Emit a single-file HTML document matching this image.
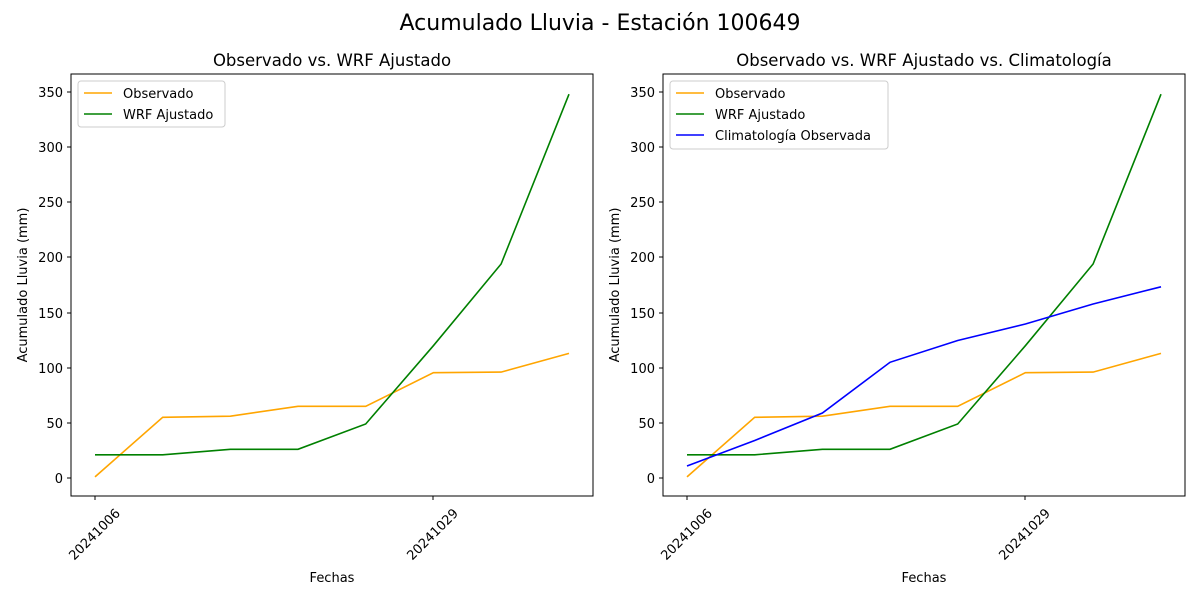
<!DOCTYPE html>
<html><head><meta charset="utf-8"><style>
html,body{margin:0;padding:0;background:#fff;}
svg{display:block;font-family:"DejaVu Sans","Liberation Sans",sans-serif;}
</style></head><body>
<svg width="1200" height="600" viewBox="0 0 1200 600">
<text x="600" y="30" font-size="22" text-anchor="middle">Acumulado Lluvia - Estación 100649</text>

<g id="ax1">
<text x="332" y="66" font-size="16.5" text-anchor="middle">Observado vs. WRF Ajustado</text>
<rect x="71" y="74" width="522" height="422" fill="none" stroke="#000" stroke-width="1"/>
<g font-size="13" text-anchor="end" fill="#000">
<line x1="67" x2="71" y1="478" y2="478" stroke="#000"/><text x="63" y="483">0</text>
<line x1="67" x2="71" y1="423" y2="423" stroke="#000"/><text x="63" y="428">50</text>
<line x1="67" x2="71" y1="368" y2="368" stroke="#000"/><text x="63" y="373">100</text>
<line x1="67" x2="71" y1="313" y2="313" stroke="#000"/><text x="63" y="318">150</text>
<line x1="67" x2="71" y1="257" y2="257" stroke="#000"/><text x="63" y="262">200</text>
<line x1="67" x2="71" y1="202" y2="202" stroke="#000"/><text x="63" y="207">250</text>
<line x1="67" x2="71" y1="147" y2="147" stroke="#000"/><text x="63" y="152">300</text>
<line x1="67" x2="71" y1="92" y2="92" stroke="#000"/><text x="63" y="97">350</text>
</g>
<line x1="95" x2="95" y1="496" y2="500" stroke="#000"/>
<line x1="433" x2="433" y1="496" y2="500" stroke="#000"/>
<text font-size="13" text-anchor="end" transform="translate(121,514) rotate(-45)">20241006</text>
<text font-size="13" text-anchor="end" transform="translate(459,514) rotate(-45)">20241029</text>
<text x="332" y="582" font-size="13" text-anchor="middle">Fechas</text>
<text font-size="13" text-anchor="middle" transform="translate(27,285) rotate(-90)">Acumulado Lluvia (mm)</text>
<polyline fill="none" stroke="orange" stroke-width="1.6" points="95,476.9 162.7,417.3 230.4,416.2 298,406.3 365.7,406.3 433.4,372.7 501.1,372.1 569,353.4"/>
<polyline fill="none" stroke="green" stroke-width="1.6" points="95,454.8 162.7,454.8 230.4,449.3 298,449.3 365.7,424 433.4,345.7 501.1,264 569,94.2"/>
<rect x="78" y="81" width="147" height="46" rx="3" fill="#fff" stroke="#ccc"/>
<line x1="84" x2="112" y1="93" y2="93" stroke="orange" stroke-width="1.6"/>
<text x="123" y="98" font-size="13">Observado</text>
<line x1="84" x2="112" y1="114" y2="114" stroke="green" stroke-width="1.6"/>
<text x="123" y="119" font-size="13">WRF Ajustado</text>
</g>

<g transform="translate(592,0)">
<text x="332" y="66" font-size="16.5" text-anchor="middle">Observado vs. WRF Ajustado vs. Climatología</text>
<rect x="71" y="74" width="522" height="422" fill="none" stroke="#000" stroke-width="1"/>
<g font-size="13" text-anchor="end" fill="#000">
<line x1="67" x2="71" y1="478" y2="478" stroke="#000"/><text x="63" y="483">0</text>
<line x1="67" x2="71" y1="423" y2="423" stroke="#000"/><text x="63" y="428">50</text>
<line x1="67" x2="71" y1="368" y2="368" stroke="#000"/><text x="63" y="373">100</text>
<line x1="67" x2="71" y1="313" y2="313" stroke="#000"/><text x="63" y="318">150</text>
<line x1="67" x2="71" y1="257" y2="257" stroke="#000"/><text x="63" y="262">200</text>
<line x1="67" x2="71" y1="202" y2="202" stroke="#000"/><text x="63" y="207">250</text>
<line x1="67" x2="71" y1="147" y2="147" stroke="#000"/><text x="63" y="152">300</text>
<line x1="67" x2="71" y1="92" y2="92" stroke="#000"/><text x="63" y="97">350</text>
</g>
<line x1="95" x2="95" y1="496" y2="500" stroke="#000"/>
<line x1="433" x2="433" y1="496" y2="500" stroke="#000"/>
<text font-size="13" text-anchor="end" transform="translate(121,514) rotate(-45)">20241006</text>
<text font-size="13" text-anchor="end" transform="translate(459,514) rotate(-45)">20241029</text>
<text x="332" y="582" font-size="13" text-anchor="middle">Fechas</text>
<text font-size="13" text-anchor="middle" transform="translate(27,285) rotate(-90)">Acumulado Lluvia (mm)</text>
<polyline fill="none" stroke="orange" stroke-width="1.6" points="95,476.9 162.7,417.3 230.4,416.2 298,406.3 365.7,406.3 433.4,372.7 501.1,372.1 569,353.4"/>
<polyline fill="none" stroke="green" stroke-width="1.6" points="95,454.8 162.7,454.8 230.4,449.3 298,449.3 365.7,424 433.4,345.7 501.1,264 569,94.2"/>
<polyline fill="none" stroke="blue" stroke-width="1.6" points="95,466 162.7,440.5 230.4,413 298,362.3 365.7,340.5 433.4,324 501.1,304 569,286.8"/>
<rect x="78" y="81" width="218" height="68" rx="3" fill="#fff" stroke="#ccc"/>
<line x1="84" x2="112" y1="93" y2="93" stroke="orange" stroke-width="1.6"/>
<text x="123" y="98" font-size="13">Observado</text>
<line x1="84" x2="112" y1="114" y2="114" stroke="green" stroke-width="1.6"/>
<text x="123" y="119" font-size="13">WRF Ajustado</text>
<line x1="84" x2="112" y1="135" y2="135" stroke="blue" stroke-width="1.6"/>
<text x="123" y="140" font-size="13">Climatología Observada</text>
</g>
</svg>
</body></html>
